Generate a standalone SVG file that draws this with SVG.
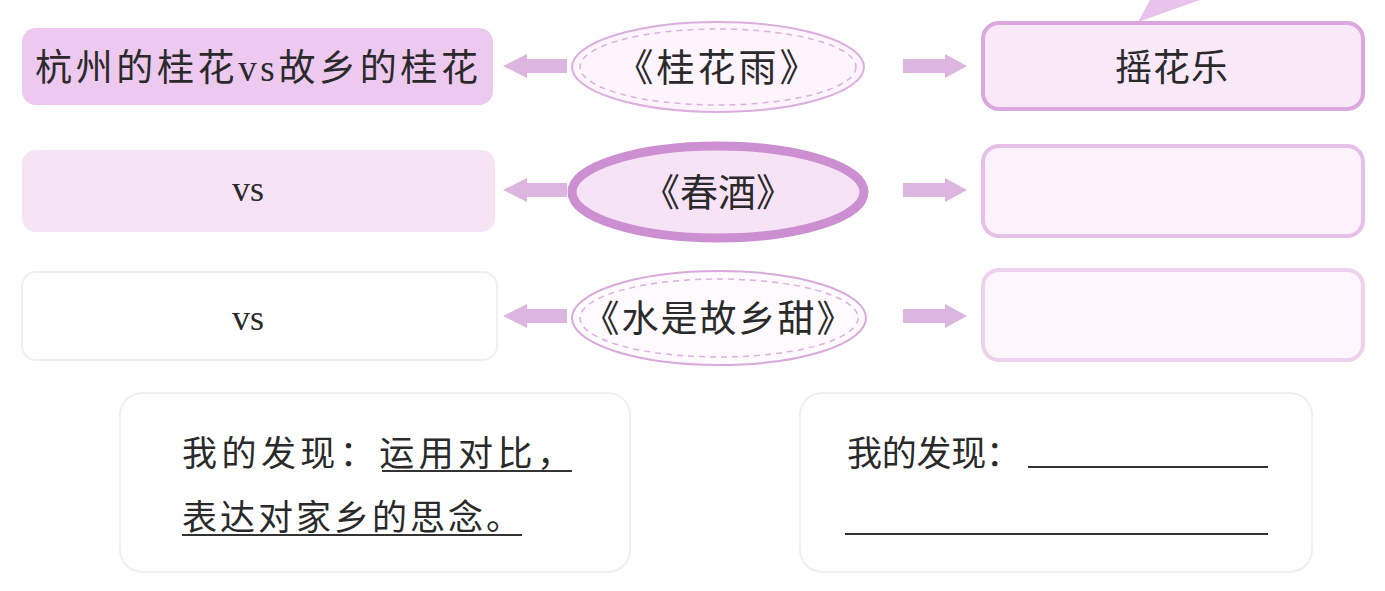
<svg xmlns="http://www.w3.org/2000/svg" width="1385" height="591" viewBox="0 0 1385 591">
<style>
.cjk{font-family:"Noto Sans CJK SC","Noto Sans",sans-serif;fill:#2a2a2a}
.lat{font-family:"Liberation Serif",serif;fill:#2a2a2a}
.arrow{fill:#dcb6e0}
.rbox{stroke-width:4}
.dash{fill:none;stroke:#dcb0df;stroke-width:1.5;stroke-dasharray:6 5}
.ul{stroke:#333;stroke-width:2}
</style>
<rect width="1385" height="591" fill="#ffffff"/>
<polygon points="1138,22 1150,0 1200,0" fill="#e9c3ec"/>
<g id="connectors">
<polygon class="arrow" points="503,66 527,54 527,59 567,59 567,73 527,73 527,78"/>
<polygon class="arrow" points="967,66 945,54 945,59 903,59 903,73 945,73 945,78"/>
<polygon class="arrow" points="503,190 527,178 527,183 567,183 567,197 527,197 527,202"/>
<polygon class="arrow" points="967,190 945,178 945,183 903,183 903,197 945,197 945,202"/>
<polygon class="arrow" points="503,316 527,304 527,309 567,309 567,323 527,323 527,328"/>
<polygon class="arrow" points="967,316 945,304 945,309 903,309 903,323 945,323 945,328"/>
</g>
<g id="left1">
<rect x="22" y="28" width="471" height="77" rx="14" fill="#edc9ef"/>
<text class="cjk" x="35" y="81" font-size="37" textLength="443" lengthAdjust="spacing">杭州的桂花<tspan class="lat">vs</tspan>故乡的桂花</text>
</g>
<g id="ell1">
<ellipse cx="718" cy="67" rx="146" ry="45" fill="#fdf4fd" stroke="#dcaee0" stroke-width="2"/>
<ellipse class="dash" cx="718" cy="67" rx="138" ry="38"/>
<text class="cjk" x="718" y="81" font-size="38" text-anchor="middle" letter-spacing="3">《桂花雨》</text>
</g>
<g id="right1">
<rect class="rbox" x="983" y="23" width="380" height="86" rx="16" fill="#f8e8f8" stroke="#dca6df"/>
<text class="cjk" x="1115" y="81" font-size="37" textLength="113" lengthAdjust="spacing">摇花乐</text>
</g>
<g id="left2">
<rect x="22" y="150" width="473" height="82" rx="14" fill="#f6e4f6"/>
<text class="lat" x="248" y="201" font-size="36" text-anchor="middle">vs</text>
</g>
<g id="ell2">
<ellipse cx="718" cy="192" rx="146" ry="46" fill="#f6e3f6" stroke="#cc8fd2" stroke-width="9"/>
<text class="cjk" x="718" y="206" font-size="38" text-anchor="middle">《春酒》</text>
</g>
<g id="right2">
<rect class="rbox" x="983" y="146" width="380" height="90" rx="16" fill="#fcf2fc" stroke="#e6c0e8"/>
</g>
<g id="left3">
<rect x="22" y="272" width="475" height="88" rx="14" fill="#ffffff" stroke="#f3eef3" stroke-width="2"/>
<text class="lat" x="248" y="330" font-size="36" text-anchor="middle">vs</text>
</g>
<g id="ell3">
<ellipse cx="719" cy="318" rx="147" ry="47" fill="#fefafe" stroke="#d9a8dc" stroke-width="2"/>
<ellipse class="dash" cx="719" cy="318" rx="139" ry="39"/>
<text class="cjk" x="719" y="332" font-size="37" text-anchor="middle" letter-spacing="2">《水是故乡甜》</text>
</g>
<g id="right3">
<rect class="rbox" x="983" y="270" width="380" height="90" rx="16" fill="#fdf6fd" stroke="#ecd2ed"/>
</g>
<g id="find1">
<rect x="120" y="393" width="510" height="179" rx="22" fill="#ffffff" stroke="#f2eff2" stroke-width="2"/>
<text class="cjk" x="182" y="466" font-size="35" textLength="390" lengthAdjust="spacing">我的发现：运用对比，</text>
<line class="ul" x1="382" y1="471" x2="572" y2="471"/>
<text class="cjk" x="182" y="530" font-size="35" textLength="339" lengthAdjust="spacing">表达对家乡的思念。</text>
<line class="ul" x1="182" y1="535" x2="522" y2="535"/>
</g>
<g id="find2">
<rect x="800" y="393" width="512" height="179" rx="22" fill="#ffffff" stroke="#f2eff2" stroke-width="2"/>
<text class="cjk" x="847" y="466" font-size="35" textLength="174" lengthAdjust="spacing">我的发现：</text>
<line class="ul" x1="1028" y1="467" x2="1268" y2="467"/>
<line class="ul" x1="845" y1="534" x2="1268" y2="534"/>
</g>
</svg>
